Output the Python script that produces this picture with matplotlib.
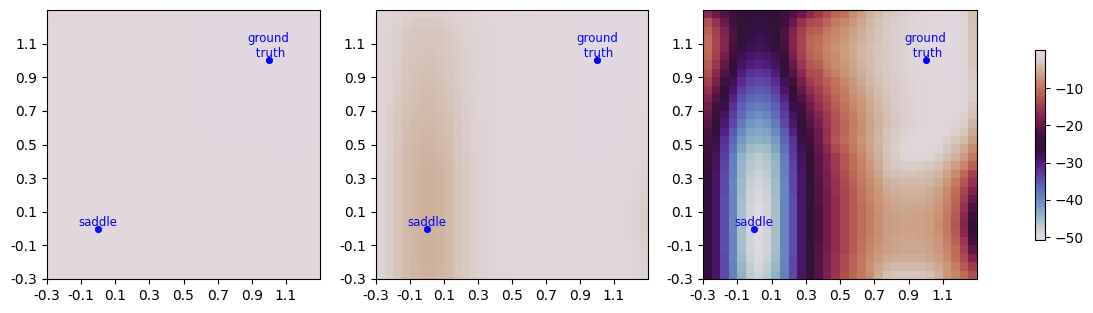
import matplotlib
matplotlib.use('Agg')
import matplotlib.pyplot as plt

# tick labels
tick_vals = [-0.3, -0.1, 0.1, 0.3, 0.5, 0.7, 0.9, 1.1]
tick_labels = ['-0.3', '-0.1', '0.1', '0.3', '0.5', '0.7', '0.9', '1.1']

# marked points
saddle = (0.0, 0.0)
truth = (1.0, 1.0)

# loss surfaces, first row is the top of the picture
loss_left = [
    [-.5,-.4,-.4,-.4,-.4,-.4,-.4,-.4,-.4,-.4,-.4,-.4,-.3,-.3,-.3,-.3,-.3,-.3,-.2,-.2,-.2,-.2,-.2,-.2,-.2,-.2,-.2,-.2,-.2,-.2,-.2,-.2],
    [-.5,-.4,-.4,-.4,-.4,-.4,-.4,-.4,-.4,-.4,-.4,-.4,-.3,-.3,-.3,-.3,-.3,-.3,-.2,-.2,-.2,-.2,-.2,-.2,-.2,-.2,-.2,-.2,-.2,-.2,-.2,-.2],
    [-.4,-.4,-.4,-.4,-.4,-.4,-.4,-.4,-.4,-.4,-.4,-.4,-.3,-.3,-.3,-.3,-.3,-.3,-.2,-.2,-.2,-.2,-.2,-.2,-.2,-.2,-.2,-.2,-.2,-.2,-.2,-.2],
    [-.4,-.4,-.4,-.4,-.4,-.4,-.4,-.4,-.4,-.4,-.4,-.4,-.3,-.3,-.3,-.3,-.3,-.3,-.2,-.2,-.2,-.2,-.2,-.2,-.2,-.2,-.2,-.2,-.2,-.2,-.2,-.2],
    [-.4,-.4,-.4,-.4,-.4,-.4,-.4,-.4,-.4,-.4,-.4,-.4,-.3,-.3,-.3,-.3,-.3,-.3,-.2,-.2,-.2,-.2,-.2,-.2,-.2,-.2,-.2,-.2,-.2,-.2,-.2,-.2],
    [-.4,-.4,-.4,-.4,-.4,-.4,-.4,-.4,-.4,-.4,-.4,-.4,-.3,-.3,-.3,-.3,-.3,-.3,-.2,-.2,-.2,-.2,-.2,-.2,-.2,-.2,-.2,-.2,-.2,-.2,-.2,-.2],
    [-.4,-.4,-.4,-.4,-.4,-.4,-.4,-.4,-.4,-.4,-.4,-.4,-.3,-.3,-.3,-.3,-.3,-.3,-.2,-.2,-.2,-.2,-.2,-.2,-.2,-.2,-.2,-.2,-.2,-.2,-.2,-.2],
    [-.4,-.4,-.4,-.4,-.4,-.4,-.4,-.4,-.4,-.4,-.4,-.4,-.3,-.3,-.3,-.3,-.3,-.3,-.2,-.2,-.2,-.2,-.2,-.2,-.2,-.2,-.2,-.2,-.2,-.2,-.2,-.2],
    [-.4,-.4,-.4,-.4,-.4,-.4,-.4,-.4,-.4,-.4,-.4,-.4,-.3,-.3,-.3,-.3,-.3,-.3,-.2,-.2,-.2,-.2,-.2,-.2,-.2,-.2,-.2,-.2,-.2,-.2,-.2,-.2],
    [-.4,-.4,-.4,-.4,-.4,-.4,-.4,-.4,-.4,-.4,-.4,-.4,-.3,-.3,-.3,-.3,-.3,-.3,-.2,-.2,-.2,-.2,-.2,-.2,-.2,-.2,-.2,-.2,-.2,-.2,-.2,-.2],
    [-.4,-.4,-.4,-.4,-.4,-.4,-.4,-.4,-.4,-.4,-.4,-.4,-.3,-.3,-.3,-.3,-.3,-.3,-.2,-.2,-.2,-.2,-.2,-.2,-.2,-.2,-.2,-.2,-.2,-.2,-.2,-.2],
    [-.4,-.4,-.4,-.4,-.4,-.4,-.4,-.4,-.4,-.4,-.4,-.4,-.3,-.3,-.3,-.3,-.3,-.3,-.2,-.2,-.2,-.2,-.2,-.2,-.2,-.2,-.2,-.2,-.2,-.2,-.2,-.2],
    [-.4,-.4,-.4,-.4,-.4,-.4,-.4,-.4,-.4,-.4,-.4,-.4,-.4,-.3,-.3,-.3,-.3,-.3,-.2,-.2,-.2,-.2,-.2,-.2,-.2,-.2,-.2,-.2,-.2,-.2,-.2,-.2],
    [-.4,-.4,-.4,-.4,-.4,-.4,-.4,-.4,-.4,-.4,-.4,-.4,-.4,-.4,-.3,-.3,-.3,-.3,-.2,-.2,-.2,-.2,-.2,-.2,-.2,-.2,-.2,-.2,-.2,-.2,-.2,-.2],
    [-.4,-.4,-.4,-.4,-.4,-.4,-.4,-.4,-.4,-.4,-.4,-.4,-.4,-.4,-.3,-.3,-.3,-.3,-.2,-.2,-.2,-.2,-.2,-.2,-.2,-.2,-.2,-.2,-.2,-.2,-.2,-.2],
    [-.4,-.4,-.4,-.4,-.4,-.4,-.4,-.4,-.4,-.4,-.4,-.4,-.4,-.4,-.3,-.3,-.3,-.3,-.3,-.3,-.2,-.2,-.2,-.2,-.2,-.2,-.2,-.2,-.2,-.2,-.2,-.2],
    [-.4,-.4,-.4,-.4,-.4,-.4,-.4,-.4,-.4,-.4,-.4,-.4,-.4,-.4,-.3,-.3,-.3,-.3,-.3,-.3,-.3,-.3,-.3,-.3,-.3,-.3,-.2,-.2,-.2,-.2,-.2,-.3],
    [-.4,-.4,-.4,-.4,-.4,-.4,-.4,-.4,-.4,-.4,-.4,-.4,-.4,-.4,-.3,-.3,-.3,-.3,-.3,-.3,-.3,-.3,-.3,-.3,-.3,-.3,-.3,-.3,-.3,-.3,-.3,-.3],
    [-.4,-.4,-.4,-.4,-.4,-.4,-.4,-.4,-.4,-.4,-.4,-.4,-.4,-.4,-.3,-.3,-.3,-.3,-.3,-.3,-.3,-.3,-.3,-.3,-.3,-.3,-.3,-.3,-.3,-.3,-.3,-.3],
    [-.4,-.4,-.4,-.4,-.4,-.4,-.4,-.4,-.4,-.4,-.4,-.4,-.4,-.4,-.3,-.3,-.3,-.3,-.3,-.3,-.3,-.3,-.3,-.3,-.3,-.3,-.3,-.3,-.3,-.3,-.3,-.3],
    [-.4,-.4,-.4,-.4,-.4,-.4,-.4,-.4,-.4,-.4,-.4,-.4,-.4,-.4,-.4,-.3,-.3,-.3,-.3,-.3,-.3,-.3,-.3,-.3,-.3,-.3,-.3,-.3,-.3,-.3,-.3,-.3],
    [-.4,-.4,-.4,-.4,-.4,-.4,-.4,-.4,-.4,-.4,-.4,-.4,-.4,-.4,-.4,-.3,-.3,-.3,-.3,-.3,-.3,-.3,-.3,-.3,-.3,-.3,-.3,-.3,-.3,-.3,-.3,-.3],
    [-.4,-.4,-.4,-.4,-.4,-.4,-.4,-.4,-.4,-.4,-.4,-.4,-.4,-.4,-.4,-.3,-.3,-.3,-.3,-.3,-.3,-.3,-.3,-.3,-.3,-.3,-.3,-.3,-.3,-.3,-.3,-.3],
    [-.4,-.4,-.4,-.4,-.4,-.4,-.4,-.4,-.4,-.4,-.4,-.4,-.4,-.4,-.4,-.3,-.3,-.3,-.3,-.3,-.3,-.3,-.3,-.3,-.3,-.3,-.3,-.3,-.3,-.3,-.3,-.3],
    [-.4,-.4,-.4,-.4,-.4,-.4,-.4,-.4,-.4,-.4,-.4,-.4,-.4,-.4,-.4,-.3,-.3,-.3,-.3,-.3,-.3,-.3,-.3,-.3,-.3,-.3,-.3,-.3,-.3,-.3,-.3,-.3],
    [-.4,-.4,-.4,-.4,-.4,-.4,-.4,-.4,-.4,-.4,-.4,-.4,-.4,-.4,-.4,-.3,-.3,-.3,-.3,-.3,-.3,-.3,-.3,-.3,-.3,-.3,-.3,-.3,-.3,-.3,-.3,-.3],
    [-.4,-.4,-.4,-.4,-.4,-.4,-.4,-.4,-.4,-.4,-.4,-.4,-.4,-.4,-.4,-.3,-.3,-.3,-.3,-.3,-.3,-.3,-.3,-.3,-.3,-.3,-.3,-.3,-.3,-.3,-.3,-.3],
    [-.4,-.4,-.4,-.4,-.4,-.4,-.4,-.4,-.4,-.4,-.4,-.4,-.4,-.4,-.4,-.3,-.3,-.3,-.3,-.3,-.3,-.3,-.3,-.3,-.3,-.3,-.3,-.3,-.3,-.3,-.3,-.3],
    [-.4,-.4,-.4,-.4,-.4,-.4,-.4,-.4,-.4,-.4,-.4,-.4,-.4,-.4,-.4,-.3,-.3,-.3,-.3,-.3,-.3,-.3,-.3,-.3,-.3,-.3,-.3,-.3,-.3,-.3,-.3,-.3],
    [-.4,-.4,-.4,-.4,-.4,-.4,-.4,-.4,-.4,-.4,-.4,-.4,-.4,-.4,-.4,-.3,-.3,-.3,-.3,-.3,-.3,-.3,-.3,-.3,-.3,-.3,-.3,-.3,-.3,-.3,-.3,-.3],
    [-.4,-.4,-.4,-.4,-.4,-.4,-.4,-.4,-.4,-.4,-.4,-.4,-.4,-.4,-.4,-.3,-.3,-.3,-.3,-.3,-.3,-.3,-.3,-.3,-.3,-.3,-.3,-.3,-.3,-.3,-.3,-.3],
    [-.4,-.4,-.4,-.4,-.4,-.4,-.4,-.4,-.4,-.4,-.4,-.4,-.4,-.4,-.4,-.3,-.3,-.3,-.3,-.3,-.3,-.3,-.3,-.3,-.3,-.3,-.3,-.3,-.3,-.3,-.3,-.3],
]

loss_mid = [
    [-.8,-1,-1.3,-1.8,-2,-2.1,-2.1,-2,-1.8,-1.5,-1.3,-1,-.9,-.8,-.7,-.7,-.6,-.5,-.5,-.4,-.4,-.3,-.3,-.3,-.2,-.2,-.2,-.2,-.2,-.2,-.2,-.3],
    [-.9,-1.2,-1.6,-2.2,-2.5,-2.6,-2.6,-2.5,-2.2,-1.8,-1.5,-1.3,-1.1,-.9,-.8,-.7,-.6,-.5,-.5,-.4,-.4,-.3,-.3,-.3,-.2,-.2,-.2,-.2,-.2,-.2,-.2,-.3],
    [-1,-1.4,-1.9,-2.5,-2.8,-2.9,-2.9,-2.8,-2.4,-2.1,-1.7,-1.4,-1.1,-1,-.8,-.7,-.6,-.6,-.5,-.4,-.4,-.3,-.3,-.3,-.2,-.2,-.2,-.2,-.2,-.2,-.2,-.3],
    [-1,-1.5,-2,-2.7,-3,-3,-3.1,-3,-2.5,-2.3,-1.8,-1.4,-1.2,-1,-.8,-.7,-.6,-.6,-.5,-.4,-.4,-.3,-.3,-.3,-.2,-.2,-.2,-.2,-.2,-.2,-.2,-.3],
    [-1,-1.5,-2,-2.7,-3,-3.1,-3.2,-3,-2.6,-2.3,-1.8,-1.5,-1.2,-1,-.8,-.7,-.6,-.6,-.5,-.4,-.4,-.3,-.3,-.3,-.2,-.2,-.2,-.2,-.2,-.2,-.2,-.3],
    [-1,-1.6,-2.1,-2.8,-3.1,-3.2,-3.3,-3.1,-2.7,-2.3,-1.9,-1.5,-1.2,-1,-.8,-.7,-.6,-.6,-.5,-.4,-.4,-.3,-.3,-.3,-.2,-.2,-.2,-.2,-.2,-.2,-.2,-.3],
    [-1.1,-1.6,-2.2,-2.9,-3.2,-3.3,-3.4,-3.2,-2.8,-2.4,-1.9,-1.5,-1.2,-1,-.8,-.7,-.6,-.6,-.5,-.4,-.4,-.3,-.3,-.3,-.2,-.2,-.2,-.2,-.2,-.2,-.2,-.3],
    [-1.1,-1.7,-2.3,-3,-3.3,-3.5,-3.5,-3.3,-2.9,-2.4,-2,-1.6,-1.2,-1,-.8,-.7,-.6,-.6,-.5,-.4,-.4,-.3,-.3,-.3,-.2,-.2,-.2,-.2,-.2,-.2,-.2,-.3],
    [-1.1,-1.7,-2.4,-3.1,-3.4,-3.6,-3.7,-3.4,-3,-2.5,-2,-1.6,-1.3,-1,-.8,-.7,-.6,-.6,-.5,-.4,-.4,-.3,-.3,-.3,-.2,-.2,-.2,-.2,-.2,-.2,-.2,-.3],
    [-1.1,-1.8,-2.4,-3.2,-3.5,-3.7,-3.8,-3.5,-3.1,-2.5,-2.1,-1.6,-1.3,-1,-.8,-.7,-.6,-.6,-.5,-.4,-.4,-.3,-.3,-.3,-.2,-.2,-.2,-.2,-.2,-.2,-.2,-.3],
    [-1.1,-1.8,-2.5,-3.3,-3.6,-3.8,-3.9,-3.6,-3.2,-2.6,-2.1,-1.7,-1.3,-1,-.8,-.7,-.6,-.6,-.5,-.4,-.4,-.3,-.3,-.3,-.2,-.2,-.2,-.2,-.2,-.2,-.3,-.4],
    [-1.2,-1.9,-2.6,-3.4,-3.7,-4,-4,-3.7,-3.3,-2.7,-2.2,-1.7,-1.3,-1,-.8,-.7,-.7,-.6,-.5,-.4,-.4,-.3,-.3,-.3,-.2,-.2,-.2,-.2,-.2,-.3,-.3,-.4],
    [-1.2,-1.9,-2.7,-3.5,-3.8,-4.1,-4.2,-3.9,-3.4,-2.8,-2.2,-1.7,-1.3,-1.1,-.9,-.7,-.7,-.6,-.5,-.4,-.4,-.3,-.3,-.3,-.2,-.2,-.2,-.2,-.2,-.3,-.3,-.5],
    [-1.2,-2,-2.8,-3.6,-4,-4.2,-4.3,-4,-3.5,-2.8,-2.3,-1.8,-1.4,-1.1,-.9,-.8,-.7,-.6,-.5,-.4,-.4,-.3,-.3,-.3,-.2,-.2,-.2,-.2,-.3,-.3,-.4,-.5],
    [-1.2,-2,-2.8,-3.7,-4.1,-4.4,-4.4,-4.1,-3.6,-2.9,-2.3,-1.8,-1.4,-1.1,-.9,-.8,-.7,-.6,-.5,-.5,-.4,-.3,-.3,-.3,-.2,-.2,-.2,-.2,-.3,-.3,-.4,-.6],
    [-1.3,-2.1,-2.9,-3.8,-4.2,-4.5,-4.5,-4.2,-3.7,-3,-2.4,-1.8,-1.4,-1.1,-.9,-.8,-.7,-.6,-.5,-.5,-.4,-.3,-.3,-.3,-.2,-.2,-.2,-.2,-.3,-.3,-.5,-.7],
    [-1.3,-2.1,-3,-3.9,-4.3,-4.6,-4.6,-4.3,-3.8,-3,-2.4,-1.8,-1.5,-1.1,-.9,-.8,-.7,-.6,-.5,-.5,-.4,-.3,-.3,-.3,-.2,-.2,-.2,-.3,-.3,-.4,-.6,-.8],
    [-1.3,-2.2,-3.1,-4,-4.4,-4.7,-4.8,-4.5,-4,-3.1,-2.5,-1.9,-1.5,-1.2,-.9,-.8,-.7,-.6,-.5,-.5,-.4,-.3,-.3,-.3,-.2,-.2,-.3,-.3,-.4,-.5,-.7,-1],
    [-1.3,-2.2,-3.1,-4.1,-4.4,-4.8,-4.9,-4.6,-4.1,-3.1,-2.5,-1.9,-1.5,-1.2,-.9,-.8,-.7,-.6,-.6,-.5,-.4,-.4,-.3,-.3,-.3,-.3,-.3,-.4,-.5,-.6,-.9,-1.2],
    [-1.3,-2.3,-3.2,-4.2,-4.5,-4.9,-5,-4.7,-4.2,-3.2,-2.6,-1.9,-1.5,-1.2,-.9,-.8,-.7,-.6,-.6,-.5,-.4,-.4,-.3,-.3,-.3,-.3,-.3,-.4,-.5,-.7,-1,-1.4],
    [-1.3,-2.3,-3.2,-4.2,-4.5,-4.9,-5,-4.7,-4.2,-3.2,-2.6,-1.9,-1.5,-1.2,-.9,-.8,-.7,-.6,-.6,-.5,-.4,-.4,-.3,-.3,-.3,-.3,-.3,-.4,-.6,-.8,-1.1,-1.6],
    [-1.3,-2.3,-3.2,-4.2,-4.5,-4.9,-5,-4.7,-4.2,-3.2,-2.6,-1.9,-1.5,-1.2,-.9,-.8,-.7,-.6,-.6,-.5,-.4,-.4,-.3,-.3,-.3,-.3,-.4,-.5,-.6,-.9,-1.2,-1.8],
    [-1.3,-2.3,-3.2,-4.2,-4.5,-4.9,-5,-4.7,-4.2,-3.2,-2.6,-1.9,-1.5,-1.2,-.9,-.8,-.7,-.6,-.6,-.5,-.4,-.4,-.3,-.3,-.3,-.3,-.4,-.5,-.7,-.9,-1.3,-2],
    [-1.3,-2.3,-3.2,-4.2,-4.5,-4.9,-5,-4.7,-4.2,-3.2,-2.6,-1.9,-1.5,-1.2,-.9,-.8,-.7,-.6,-.6,-.5,-.4,-.4,-.3,-.3,-.3,-.3,-.4,-.5,-.7,-1,-1.4,-2.2],
    [-1.3,-2.3,-3.2,-4.2,-4.5,-4.9,-5,-4.7,-4.2,-3.2,-2.6,-1.9,-1.5,-1.2,-.9,-.8,-.7,-.6,-.6,-.5,-.4,-.4,-.3,-.3,-.3,-.3,-.4,-.5,-.7,-1,-1.4,-2.3],
    [-1.3,-2.3,-3.2,-4.2,-4.5,-4.9,-5,-4.7,-4.2,-3.2,-2.6,-1.9,-1.5,-1.2,-.9,-.8,-.7,-.6,-.6,-.5,-.4,-.4,-.3,-.3,-.3,-.3,-.4,-.5,-.7,-1,-1.4,-2.3],
    [-1.3,-2.3,-3.2,-4.2,-4.5,-4.9,-5,-4.7,-4.2,-3.2,-2.6,-1.9,-1.5,-1.2,-.9,-.8,-.7,-.6,-.6,-.5,-.4,-.4,-.3,-.3,-.3,-.3,-.4,-.5,-.7,-1,-1.4,-2.2],
    [-1.3,-2.3,-3.2,-4.2,-4.5,-4.9,-5,-4.7,-4.2,-3.2,-2.6,-1.9,-1.5,-1.2,-.9,-.8,-.7,-.6,-.6,-.5,-.4,-.4,-.3,-.3,-.3,-.3,-.4,-.5,-.7,-.9,-1.3,-2],
    [-1.3,-2.3,-3.2,-4.2,-4.5,-4.9,-5,-4.7,-4.2,-3.2,-2.6,-1.9,-1.5,-1.2,-.9,-.8,-.7,-.6,-.6,-.5,-.4,-.4,-.3,-.3,-.3,-.3,-.4,-.5,-.6,-.9,-1.2,-1.8],
    [-1.3,-2.3,-3.2,-4.2,-4.5,-4.9,-5,-4.7,-4.2,-3.2,-2.6,-1.9,-1.5,-1.2,-.9,-.8,-.7,-.6,-.6,-.5,-.4,-.4,-.3,-.3,-.3,-.3,-.3,-.4,-.6,-.8,-1.1,-1.6],
    [-1.3,-2.2,-3.2,-4.1,-4.5,-4.8,-4.9,-4.6,-4.1,-3.1,-2.5,-1.9,-1.5,-1.2,-.9,-.8,-.7,-.6,-.6,-.5,-.4,-.4,-.3,-.3,-.3,-.3,-.3,-.4,-.5,-.7,-1,-1.4],
    [-1.3,-2.2,-3.2,-4.1,-4.5,-4.8,-4.9,-4.6,-4.1,-3.1,-2.5,-1.9,-1.5,-1.2,-.9,-.8,-.7,-.6,-.6,-.5,-.4,-.4,-.3,-.3,-.3,-.3,-.3,-.4,-.5,-.6,-.9,-1.2],
]

loss_right = [
    [-17,-19.5,-21.5,-23,-24.5,-25,-25.5,-25,-24.5,-23,-21.5,-19.5,-17,-15,-13,-11,-10,-8,-6.5,-5,-4,-3,-2.5,-2,-1.5,-1.2,-.8,-.5,-.3,-.2,-1,-3.5],
    [-13,-16,-19.5,-23,-25,-26,-26.5,-26,-25,-23,-19.5,-16,-13.5,-13,-11,-9.5,-8.5,-7,-5.7,-4.5,-3.5,-2.7,-2.2,-1.8,-1.4,-1,-.7,-.5,-.3,-.2,-1.2,-3.5],
    [-11.5,-14.5,-18,-22,-25,-26.5,-27,-26.5,-25,-22,-18,-14.5,-12,-11.5,-9.5,-8.5,-7.5,-6.3,-5.2,-4.2,-3.3,-2.6,-2.1,-1.7,-1.3,-1,-.7,-.4,-.3,-.2,-1.2,-3.3],
    [-10.5,-14,-17.5,-22,-25.5,-27,-27.5,-27,-25.5,-22,-17.5,-14,-11,-10.5,-9,-8,-7,-6,-5,-4,-3.2,-2.5,-2,-1.6,-1.2,-.9,-.6,-.4,-.2,-.2,-1.2,-3.2],
    [-10.5,-14,-17.5,-22.5,-26,-27.5,-28,-27.5,-26,-22.5,-17.5,-14,-11,-10,-8.5,-7.5,-6.5,-5.5,-4.5,-3.7,-3,-2.5,-2,-1.5,-1.2,-.9,-.6,-.4,-.2,-.2,-1.2,-3],
    [-11,-14.5,-18.5,-23.5,-27.5,-29,-29.5,-29,-27.5,-23.5,-18.5,-14.5,-11.5,-10.5,-8.8,-7.7,-6.7,-5.7,-4.6,-3.8,-3,-2.5,-2,-1.5,-1.2,-.9,-.6,-.4,-.2,-.2,-1.2,-3],
    [-12,-15.5,-20,-24.5,-28.5,-30,-30.5,-30,-28.5,-24.5,-20,-15.5,-12.5,-11.5,-9.3,-8,-7,-6,-4.8,-3.9,-3.1,-2.5,-2,-1.5,-1.2,-.9,-.6,-.4,-.2,-.2,-1.1,-2.8],
    [-13,-17,-21.5,-26,-30,-32,-32.5,-32,-30,-26,-21.5,-17,-13.5,-13,-10.2,-8.7,-7.5,-6.3,-5.2,-4.2,-3.3,-2.6,-2.1,-1.6,-1.2,-.9,-.6,-.4,-.3,-.2,-1,-2.5],
    [-14.5,-18.5,-23,-28,-31.5,-33.5,-34,-33.5,-31.5,-28,-23,-18.5,-15,-13.5,-11.5,-10,-8.5,-7,-5.7,-4.5,-3.5,-2.8,-2.3,-1.8,-1.4,-1,-.7,-.4,-.3,-.3,-1,-2.3],
    [-16,-20,-24.5,-29,-33,-35,-35.5,-35,-33,-29,-24.5,-20,-16.5,-14.5,-12.5,-10.5,-9,-7.5,-6.2,-5,-3.8,-3,-2.4,-1.9,-1.5,-1.1,-.7,-.5,-.3,-.3,-.8,-2],
    [-17.5,-21.5,-26,-30.5,-34.5,-36.5,-37,-36.5,-34.5,-30.5,-26,-21.5,-18,-15.5,-13.5,-11.2,-9.5,-8,-6.7,-5.3,-4.1,-3.2,-2.5,-2,-1.5,-1.1,-.7,-.5,-.4,-.4,-1,-2.3],
    [-19,-23,-27,-32,-36,-38,-38.5,-38,-36,-32,-27,-23,-19.5,-16.5,-14.2,-11.8,-10,-8.5,-7,-5.6,-4.4,-3.4,-2.6,-2,-1.5,-1.1,-.7,-.5,-.5,-.6,-1.3,-2.8],
    [-20,-24,-28.5,-33,-37,-39.5,-40.5,-39.5,-37,-33,-28.5,-24,-20.5,-17.5,-15,-12.5,-10.5,-9,-7.5,-6,-4.7,-3.6,-2.7,-2,-1.5,-1.1,-.7,-.5,-.7,-1,-1.8,-3.5],
    [-21,-25,-29.5,-34,-38.5,-41,-42,-41,-38.5,-34,-29.5,-25,-21.5,-18.5,-15.5,-13,-11,-9.3,-7.7,-6.2,-4.9,-3.7,-2.8,-2.1,-1.6,-1.2,-.8,-.6,-.9,-1.5,-2.3,-4.5],
    [-22,-26,-30.5,-35.5,-40,-42.5,-43,-42.5,-40,-35.5,-30.5,-26,-22.5,-19.5,-16,-13,-11,-9,-7.7,-6.2,-4.8,-3.3,-2.5,-1.7,-1,-.7,-.5,-.7,-1.2,-2,-3,-5.5],
    [-22.5,-27,-32,-36.5,-41.5,-43.5,-44,-43.5,-41.5,-36.5,-32,-27,-23.5,-19.5,-16,-12.5,-10.5,-9,-7.3,-5.8,-4.5,-3.2,-2.3,-1.5,-.8,-.6,-.6,-1,-2,-3,-4.2,-6.5],
    [-23,-27.5,-32.5,-37.5,-42.5,-45,-45.5,-45,-42.5,-37.5,-32.5,-27.5,-24,-20,-17,-13.5,-11.5,-9.5,-7.7,-6,-4.7,-3.2,-2.2,-1.2,-.8,-.7,-.8,-1.3,-2.8,-4.2,-5.5,-8],
    [-24,-28.5,-33,-38.5,-44,-46,-47,-46,-44,-38.5,-33,-28.5,-24.5,-21,-18,-15,-12.5,-10.5,-8.5,-6.5,-5,-3.4,-2.4,-1.2,-1,-1,-1.5,-2.5,-3.8,-5,-6.8,-9.5],
    [-24,-28.5,-33.5,-39,-44.5,-46.5,-47.5,-46.5,-44.5,-39,-33.5,-28.5,-24.5,-21,-18,-15,-12.5,-10.5,-8.7,-7,-5.5,-3.5,-2.6,-2.3,-2.3,-2.5,-2.8,-3.5,-5,-6.5,-8.5,-11.5],
    [-24.5,-29,-34,-39,-44.5,-47,-48,-47,-44.5,-39,-34,-29,-25,-21,-18.5,-15.5,-13,-11,-9,-7.5,-6,-4,-3.5,-3.3,-3.3,-3.5,-3.8,-4.5,-6,-8,-11,-14.5],
    [-24.5,-29,-34,-39.5,-45,-47.5,-48.5,-47.5,-45,-39.5,-34,-29,-25,-21.5,-18.5,-16,-13.5,-11.5,-9.5,-8,-6.7,-5,-4.5,-4.2,-4.2,-4.3,-4.6,-5.5,-7,-9.5,-12.5,-16],
    [-24.5,-29,-34,-39.5,-45,-48,-49,-48,-45,-39.5,-34,-29,-25,-21.5,-19,-16,-14,-12,-10,-8.5,-7,-5.5,-5,-4.8,-4.8,-4.9,-5.3,-6.2,-8,-10.5,-14,-18],
    [-24.5,-29,-34.5,-39.5,-45.5,-48,-49.5,-48,-45.5,-39.5,-34.5,-29,-25,-21.5,-19,-16.5,-14,-12,-10,-8.5,-7.2,-6,-5.5,-5.3,-5.3,-5.4,-5.8,-6.7,-8.5,-11,-15,-20],
    [-24.5,-29,-34.5,-39.5,-45.5,-48.5,-50,-48.5,-45.5,-39.5,-34.5,-29,-25,-22,-19,-16.5,-14,-12,-10.5,-9,-7.5,-6.5,-6,-5.8,-5.8,-5.9,-6.2,-7.2,-9,-11.5,-16,-22],
    [-24.5,-29,-34.5,-39.5,-45.5,-48.5,-50.3,-48.5,-45.5,-39.5,-34.5,-29,-25,-22,-19,-16.5,-14,-12,-10.5,-9,-7.7,-6.7,-6.3,-6,-6,-6.2,-6.5,-7.5,-9.5,-12,-17,-23.5],
    [-24.5,-29,-34.5,-39.5,-45.5,-48.5,-50.5,-48.5,-45.5,-39.5,-34.5,-29,-25,-22,-19,-16.5,-14,-12,-10.5,-9,-7.8,-6.8,-6.5,-6.2,-6.2,-6.3,-6.7,-7.7,-9.5,-12.5,-17.5,-24.5],
    [-24.5,-29,-34.5,-39.5,-45.5,-48.5,-50.5,-48.5,-45.5,-39.5,-34.5,-29,-25,-22,-19,-16.5,-14,-12,-10.5,-9,-7.7,-6.7,-6.3,-6,-6,-6.2,-6.5,-7.5,-9.5,-12,-17,-24],
    [-24.5,-29,-34.5,-39.5,-45.5,-48.5,-50.3,-48.5,-45.5,-39.5,-34.5,-29,-25,-22,-19,-16.5,-14,-12,-10.3,-8.8,-7.5,-6.5,-6,-5.8,-5.8,-6,-6.3,-7.2,-9,-11.5,-15.5,-22.5],
    [-24.5,-29,-34.5,-39.5,-45.5,-48.5,-50,-48.5,-45.5,-39.5,-34.5,-29,-25,-21.5,-19,-16.5,-14,-12,-10,-8.5,-7.2,-6.2,-6,-5.8,-5.8,-5.9,-6.2,-7,-8.5,-10.5,-14.5,-20.5],
    [-24.5,-29,-34,-39.5,-45,-48,-49.5,-48,-45,-39.5,-34,-29,-25,-21.5,-18.5,-16,-13.5,-11.5,-9.7,-8,-6.8,-5.7,-5.4,-5.2,-5.2,-5.4,-5.8,-6.5,-8,-10.3,-13.5,-18],
    [-24.5,-29,-34,-39,-44.5,-47.5,-49,-47.5,-44.5,-39,-34,-29,-25,-21.5,-18.5,-16,-13.5,-11.5,-9.5,-7.5,-6,-4.7,-4.3,-4.2,-4.2,-4.3,-4.8,-5.7,-7,-9.2,-12,-15],
    [-24.5,-29,-34,-39,-44,-47,-48.5,-47,-44,-39,-34,-29,-25,-21.5,-18,-15.5,-13,-11,-9.5,-8,-5.5,-3.5,-3,-2.8,-2.8,-3,-3.5,-5,-7,-8.5,-10.5,-13],
]

W, H = 1093, 313
fig = plt.figure(figsize=(W / 100, H / 100), dpi=100)


def px_axes(x0, x1, y0, y1):
    return fig.add_axes([x0 / W, 1 - y1 / H, (x1 - x0) / W, (y1 - y0) / H])


panels = [(loss_left, 47, 320), (loss_mid, 375.5, 648), (loss_right, 703, 977)]
for loss, x0, x1 in panels:
    ax = px_axes(x0, x1, 10, 279)
    im = ax.imshow(loss, cmap='twilight', vmin=-50.6, vmax=0.2, aspect='auto',
                   extent=[-0.3, 1.3, -0.3, 1.3], interpolation='nearest')
    ax.set_xticks(tick_vals)
    ax.set_xticklabels(tick_labels)
    ax.set_yticks(tick_vals)
    ax.set_yticklabels(tick_labels)
    ax.scatter(*saddle, color='blue', s=17, zorder=3)
    ax.scatter(*truth, color='blue', s=17, zorder=3)
    ax.text(saddle[0], saddle[1], 'saddle', color='blue', fontsize=8.5, ha='center', va='bottom')
    ax.text(truth[0], truth[1], 'ground\n truth', color='blue', fontsize=8.5, ha='center', va='bottom')

cax = px_axes(1035, 1044.5, 50, 239.5)
fig.colorbar(im, cax=cax, ticks=[-10, -20, -30, -40, -50])

fig.savefig('out.png', dpi=100)
